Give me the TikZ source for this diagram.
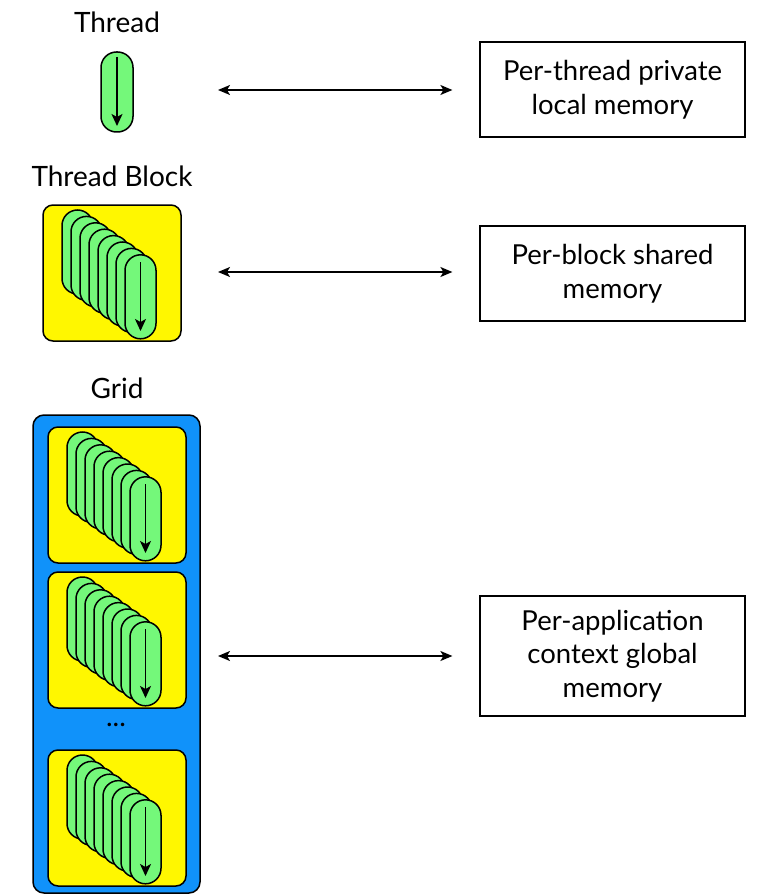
\documentclass[tikz,border=0pt]{standalone}
\usepackage{fontspec}
\setmainfont{Lato}
\usetikzlibrary{arrows.meta}
\definecolor{thrgreen}{RGB}{116,248,122}
\definecolor{blkyellow}{RGB}{255,247,0}
\definecolor{gridblue}{RGB}{16,146,250}
\tikzset{
  x=1pt, y=-1pt,
  label text/.style={font=\fontsize{28}{33}\selectfont, inner sep=0pt},
  memory/.style={draw, line width=1.2, minimum width=265, minimum height=95,
    align=center, font=\fontsize{27.5}{33.5}\selectfont},
  capsule/.style={draw, line width=1.5, fill=thrgreen, rounded corners=15.5},
  blockbox/.style={draw, line width=1.5, fill=blkyellow, rounded corners=10},
  gridbox/.style={draw, line width=1.5, fill=gridblue, rounded corners=11},
  flow/.style={line width=1.6, -{Stealth[length=12, width=11, inset=3]}},
  link/.style={line width=1.6, {Stealth[length=12, width=10, inset=3]}-{Stealth[length=12, width=10, inset=3]}},
  pics/tblock/.style={code={
    \draw[blockbox] (0,0) rectangle (138,136);
    \foreach \i in {0,...,7}{
      \draw[capsule] ({19+9*\i},{5+6.4*\i}) rectangle ++(31,84);
    }
    \draw[flow] (97.5,57) -- (97.5,126);
  }}
}
\begin{document}
\begin{tikzpicture}
\useasboundingbox (0,0) rectangle (761,896);

% single thread
\node[label text] (thread) at (117,22) {Thread};
\draw[capsule] (101,52) rectangle (133,132);
\draw[flow] (117,57) -- (117,126);

% thread block
\node[label text] (block) at (112,176) {Thread Block};
\pic at (43,205) {tblock};

% grid of blocks
\node[label text] (grid) at (117,388) {Grid};
\draw[gridbox] (33,415) rectangle (200,893);
\pic at (48,427) {tblock};
\pic at (48,572) {tblock};
\node[label text] (dots) at (116,725) {...};
\pic at (48,750) {tblock};

% memory spaces
\node[memory] (mem1) at (612.5,89.5) {Per-thread private\\local memory};
\node[memory] (mem2) at (612.5,273.5) {Per-block shared\\memory};
\node[memory, minimum height=120] (mem3) at (612.5,656) {Per-application\\context global\\memory};

% access links
\coordinate (t1) at (218,90);
\coordinate (t2) at (218,272);
\coordinate (t3) at (218,656);
\draw[link, shorten >=27] (t1) -- (t1 -| mem1.west);
\draw[link, shorten >=27] (t2) -- (t2 -| mem2.west);
\draw[link, shorten >=27] (t3) -- (t3 -| mem3.west);
\end{tikzpicture}
\end{document}
